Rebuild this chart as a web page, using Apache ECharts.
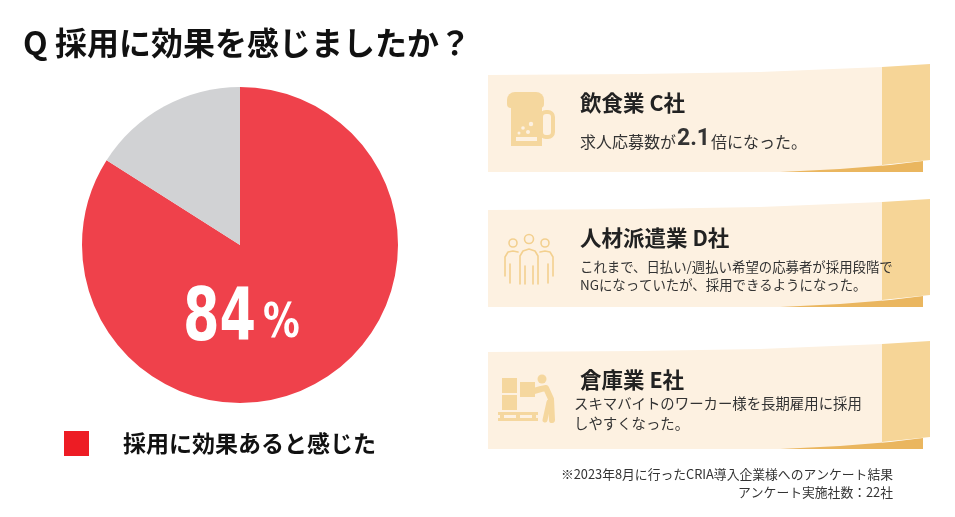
<!DOCTYPE html>
<html>
<head>
<meta charset="utf-8">
<script src="https://cdn.jsdelivr.net/npm/echarts@6/dist/echarts.min.js"></script>
<style>
  html, body { margin: 0; padding: 0; background: #fff; }
  #chart { width: 955px; height: 517px; }
</style>
</head>
<body>
<div id="chart"></div>
<script>
'use strict';
{
    // data
    let categories = ['採用に効果あると感じた', '効果を感じなかった'];
    let values = [84, 16];
    let questionText = 'Q 採用に効果を感じましたか？';
    let caseTitles = ['飲食業 C社', '人材派遣業 D社', '倉庫業 E社'];
    let caseLines = [
        ['{a|求人応募数が}{b|2.1}{a|倍になった。}'],
        ['これまで、日払い/週払い希望の応募者が採用段階で', 'NGになっていたが、採用できるようになった。'],
        ['スキマバイトのワーカー様を長期雇用に採用', 'しやすくなった。']
    ];
    let footnotes = ['※2023年8月に行ったCRIA導入企業様へのアンケート結果', 'アンケート実施社数：22社'];

    let dom = document.getElementById('chart');
    let myChart = echarts.init(dom);
    const JP = '"Noto Sans CJK JP", "Noto Sans", sans-serif';
    const beige = '#FDF1E1';
    const fold = '#F6D597';
    const strip = '#EAB65F';
    const iconColor = '#F5D79E';
    const cardTops = [75, 210, 352];

    function card(y0) {
        return [
            { type: 'polygon', shape: { points: [[488, y0], [640, y0 - 1], [760, y0 - 3], [882, y0 - 8], [882, y0 + 97], [488, y0 + 97]] }, style: { fill: beige } },
            { type: 'polygon', shape: { points: [[882, y0 - 8], [930, y0 - 11], [930, y0 + 85], [882, y0 + 90]] }, style: { fill: fold } },
            { type: 'polygon', shape: { points: [[780, y0 + 97], [840, y0 + 94], [890, y0 + 90], [923, y0 + 86], [923, y0 + 97]] }, style: { fill: strip } }
        ];
    }

    let graphics = [];
    cardTops.forEach(function (t) { graphics = graphics.concat(card(t)); });

    // beer mug icon
    graphics.push(
        { type: 'rect', shape: { x: 511, y: 104, width: 31, height: 42 }, style: { fill: iconColor } },
        { type: 'rect', shape: { x: 507, y: 92, width: 37, height: 16, r: [8, 8, 4, 4] }, style: { fill: iconColor } },
        { type: 'rect', shape: { x: 541, y: 112, width: 12, height: 25, r: 5 }, style: { fill: 'none', stroke: iconColor, lineWidth: 4 } },
        { type: 'rect', shape: { x: 516, y: 137, width: 21, height: 4 }, style: { fill: beige } },
        { type: 'circle', shape: { cx: 531, cy: 124, r: 2.2 }, style: { fill: beige } },
        { type: 'circle', shape: { cx: 523, cy: 128, r: 1.8 }, style: { fill: beige } },
        { type: 'circle', shape: { cx: 528, cy: 132, r: 2 }, style: { fill: beige } },
        { type: 'circle', shape: { cx: 519, cy: 133, r: 1.5 }, style: { fill: beige } }
    );

    // people icon
    let pStroke = { fill: 'none', stroke: '#F3D08F', lineWidth: 1.6, lineCap: 'round', lineJoin: 'round' };
    graphics.push(
        { type: 'circle', shape: { cx: 513, cy: 243, r: 4 }, style: pStroke },
        { type: 'circle', shape: { cx: 529, cy: 239, r: 4.5 }, style: pStroke },
        { type: 'circle', shape: { cx: 545, cy: 243, r: 4 }, style: pStroke },
        { type: 'polyline', shape: { points: [[520, 284], [520, 256], [523, 251], [529, 249], [535, 251], [538, 256], [538, 284]] }, style: pStroke },
        { type: 'polyline', shape: { points: [[525, 284], [525, 266]] }, style: pStroke },
        { type: 'polyline', shape: { points: [[533, 284], [533, 266]] }, style: pStroke },
        { type: 'polyline', shape: { points: [[505, 276], [505, 257], [508, 252], [513, 251], [518, 252]] }, style: pStroke },
        { type: 'polyline', shape: { points: [[510, 283], [510, 264]] }, style: pStroke },
        { type: 'polyline', shape: { points: [[553, 276], [553, 257], [550, 252], [545, 251], [540, 252]] }, style: pStroke },
        { type: 'polyline', shape: { points: [[548, 283], [548, 264]] }, style: pStroke }
    );

    // worker icon
    let wFill = { fill: iconColor };
    graphics.push(
        { type: 'rect', shape: { x: 502, y: 395, width: 15, height: 15 }, style: wFill },
        { type: 'rect', shape: { x: 502, y: 378, width: 15, height: 15 }, style: wFill },
        { type: 'rect', shape: { x: 520, y: 382, width: 15, height: 15 }, style: wFill },
        { type: 'rect', shape: { x: 498, y: 412, width: 40, height: 3 }, style: wFill },
        { type: 'rect', shape: { x: 498, y: 418, width: 40, height: 3 }, style: wFill },
        { type: 'rect', shape: { x: 500, y: 414, width: 4, height: 5 }, style: wFill },
        { type: 'rect', shape: { x: 516, y: 414, width: 4, height: 5 }, style: wFill },
        { type: 'rect', shape: { x: 532, y: 414, width: 4, height: 5 }, style: wFill },
        { type: 'circle', shape: { cx: 542, cy: 379, r: 4.5 }, style: wFill },
        { type: 'polyline', shape: { points: [[534, 391], [541, 389], [546, 388], [551, 399], [552, 420]] }, style: { fill: 'none', stroke: iconColor, lineWidth: 6, lineCap: 'round', lineJoin: 'round' } },
        { type: 'polyline', shape: { points: [[549, 402], [545, 420]] }, style: { fill: 'none', stroke: iconColor, lineWidth: 5, lineCap: 'round' } }
    );

    // card texts
    caseTitles.forEach(function (t, i) {
        graphics.push({ type: 'text', x: 580, y: cardTops[i] + 28, style: { text: t, font: 'bold 21.5px ' + JP, fill: '#222', verticalAlign: 'middle' } });
    });
    graphics.push({
        type: 'text', x: 580, y: 139,
        style: {
            text: caseLines[0][0], verticalAlign: 'middle', fill: '#333',
            rich: {
                a: { fontSize: 16, fontFamily: JP, fill: '#333', verticalAlign: 'bottom', lineHeight: 24, padding: [0, 0, 1, 0] },
                b: { fontSize: 23, fontWeight: 'bold', fontFamily: 'Roboto, sans-serif', fill: '#333', verticalAlign: 'bottom', lineHeight: 24, padding: [4, 1, 0, 1] }
            }
        }
    });
    let lineY = [[], [267, 285], [404, 424]];
    [1, 2].forEach(function (i) {
        caseLines[i].forEach(function (l, j) {
            graphics.push({ type: 'text', x: i === 1 ? 580 : 574, y: lineY[i][j], style: { text: l, font: (i === 1 ? 13.4 : 14.4) + 'px ' + JP, fill: '#333', verticalAlign: 'middle' } });
        });
    });
    footnotes.forEach(function (f, j) {
        graphics.push({ type: 'text', x: 893, y: 474 + j * 18, style: { text: f, font: '12.8px ' + JP, fill: '#333', align: 'right', verticalAlign: 'middle' } });
    });

    // big percentage label (on top of the pie), condensed by scaling
    const bigFont = '"Liberation Sans Narrow", "DejaVu Sans Condensed", sans-serif';
    graphics.push(
        { type: 'text', z: 100, x: 256, y: 321, scaleX: 0.8, style: { text: String(values[0]), font: 'bold 73px ' + bigFont, fill: '#fff', align: 'right', verticalAlign: 'middle' } },
        { type: 'text', z: 100, x: 263, y: 325, scaleX: 0.85, style: { text: '%', font: 'bold 48px ' + bigFont, fill: '#fff', align: 'left', verticalAlign: 'middle' } }
    );

    let option = {
        animation: false,
        backgroundColor: '#fff',
        title: {
            text: questionText,
            left: 18,
            top: 22,
            textStyle: { fontSize: 32, fontWeight: 'bold', color: '#111', fontFamily: JP }
        },
        legend: {
            data: [{ name: categories[0], itemStyle: { color: '#ED1C24' } }],
            left: 64,
            top: 431,
            padding: 0,
            icon: 'rect',
            itemWidth: 25,
            itemHeight: 25,
            selectedMode: false,
            textStyle: { fontSize: 23, fontWeight: 'bold', color: '#111', fontFamily: JP, padding: [0, 0, 0, 29] }
        },
        series: [{
            name: 'result',
            type: 'pie',
            center: [240, 245],
            radius: 158,
            startAngle: 90,
            clockwise: true,
            label: { show: false },
            labelLine: { show: false },
            emphasis: { disabled: true },
            silent: true,
            data: [
                { name: categories[0], value: values[0], itemStyle: { color: '#EF414B' } },
                { name: categories[1], value: values[1], itemStyle: { color: '#D1D2D4' } }
            ]
        }],
        graphic: graphics
    };
    myChart.setOption(option);
}
</script>
</body>
</html>
